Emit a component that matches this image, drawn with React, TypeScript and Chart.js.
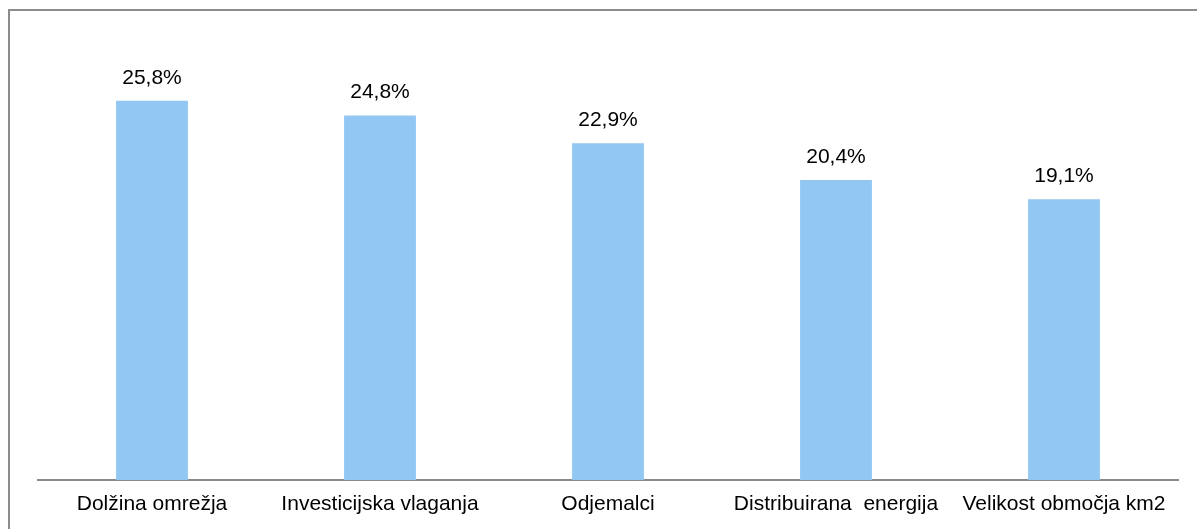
import React, { useEffect, useRef } from "react";
import { Chart, registerables } from "chart.js";

Chart.register(...registerables);

const categories = [
  "Dolžina omrežja",
  "Investicijska vlaganja",
  "Odjemalci",
  "Distribuirana  energija",
  "Velikost območja km2",
];
const values = [25.8, 24.8, 22.9, 20.4, 19.1];
const valueLabels = ["25,8%", "24,8%", "22,9%", "20,4%", "19,1%"];

const labelPlugin = {
  id: "valueLabels",
  afterDatasetsDraw(chart: any) {
    const ctx = chart.ctx;
    const meta = chart.getDatasetMeta(0);
    ctx.save();
    ctx.font = "21px 'Liberation Sans', Arial, sans-serif";
    ctx.fillStyle = "#000";
    ctx.textAlign = "center";
    ctx.textBaseline = "alphabetic";
    meta.data.forEach((bar: any, i: number) => {
      ctx.fillText(valueLabels[i], bar.x, bar.y - 17);
    });
    ctx.restore();
  },
};

export default function App() {
  const ref = useRef<HTMLCanvasElement>(null);
  useEffect(() => {
    const chart = new Chart(ref.current!, {
      type: "bar",
      data: {
        labels: categories,
        datasets: [
          {
            data: values,
            backgroundColor: "#92C6F3",
            borderWidth: 0,
            barPercentage: 0.315,
            categoryPercentage: 1,
          },
        ],
      },
      options: {
        animation: false,
        responsive: false,
        maintainAspectRatio: false,
        layout: { padding: { left: 38, right: 19, top: 39, bottom: 0 } },
        plugins: { legend: { display: false }, tooltip: { enabled: false } },
        scales: {
          y: { display: false, min: 0, max: 30 },
          x: {
            grid: { display: false, drawTicks: false, tickLength: 0 },
            border: { display: true, color: "#8a8a8a", width: 2 },
            afterFit: (scale: any) => {
              scale.height = 49;
            },
            ticks: {
              color: "#000",
              padding: 12,
              maxRotation: 0,
              autoSkip: false,
              font: { family: "'Liberation Sans', Arial, sans-serif", size: 21 },
            },
          },
        },
      },
      plugins: [labelPlugin],
    });
    return () => chart.destroy();
  }, []);
  return (
    <div style={{ position: "absolute", left: 0, top: 0, width: 1197, height: 529, overflow: "hidden", background: "#fff" }}>
      <div
        style={{
          position: "absolute",
          left: 8,
          top: 9,
          width: 1400,
          height: 800,
          border: "2px solid #8c8c8c",
          boxSizing: "border-box",
        }}
      />
      <canvas ref={ref} width={1197} height={529} style={{ position: "absolute", left: 0, top: 0 }} />
    </div>
  );
}
